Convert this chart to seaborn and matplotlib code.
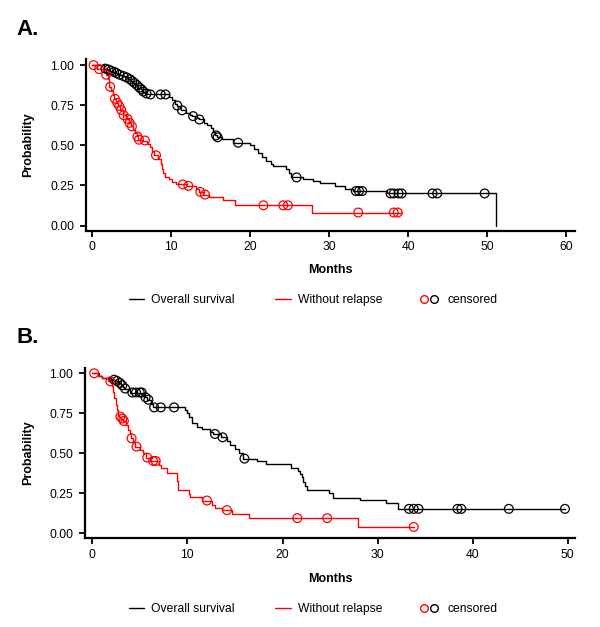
import numpy as np
import pandas as pd
import matplotlib
matplotlib.use("Agg")
import matplotlib.pyplot as plt
from matplotlib.lines import Line2D
import seaborn as sns

# ---------------- data (months, survival probability) ----------------
# Panel A - overall survival (black)
a_os_t = [0, 1.5, 2.0, 2.3, 2.65, 3.0, 3.3, 3.8, 4.2, 4.6, 4.95, 5.25, 5.55, 5.85, 6.15, 6.4, 6.7, 7.2,
          9.7, 10.1, 10.5, 10.7, 11.1, 11.3, 11.9, 12.4, 12.7, 13.3, 13.5, 14.2, 14.6, 15.0, 15.3, 15.6,
          15.8, 16.4, 17.8, 20.0, 20.5, 21.0, 21.5, 22.0, 22.6, 22.9, 24.6, 24.9, 25.2, 26.7, 28.0,
          28.9, 30.8, 32.0, 33.0, 37.3, 51.2]
a_os_s = [1.0, 0.978, 0.972, 0.965, 0.958, 0.95, 0.94, 0.931, 0.923, 0.912, 0.90, 0.888, 0.875, 0.86,
          0.848, 0.835, 0.823, 0.817, 0.80, 0.78, 0.76, 0.748, 0.73, 0.718, 0.70, 0.69, 0.682, 0.67,
          0.661, 0.64, 0.625, 0.605, 0.585, 0.562, 0.55, 0.54, 0.516, 0.50, 0.48, 0.455, 0.43, 0.405,
          0.385, 0.37, 0.35, 0.325, 0.30, 0.288, 0.278, 0.262, 0.248, 0.23, 0.215, 0.20, 0.0]
a_os_cens = [1.7, 2.1, 2.4, 2.8, 3.1, 3.5, 4.0, 4.4, 4.8, 5.1, 5.4, 5.7, 6.0, 6.3, 6.5, 6.9, 7.4, 8.7,
             9.3, 10.8, 11.4, 12.8, 13.6, 15.7, 15.9, 18.5, 25.9, 33.4, 33.8, 34.2, 37.8, 38.2, 38.8,
             39.2, 43.1, 43.7, 49.7]

# Panel A - without relapse (red)
a_rf_t = [0, 0.6, 1.5, 1.75, 2.0, 2.1, 2.2, 2.45, 2.6, 2.75, 3.05, 3.35, 3.6, 3.9, 4.3, 4.65, 4.95,
          5.25, 5.45, 5.65, 5.85, 6.3, 7.0, 7.3, 7.6, 7.9, 8.4, 8.7, 8.85, 9.0, 9.2, 9.7, 10.1, 10.6,
          12.0, 13.2, 13.5, 14.1, 14.8, 16.6, 18.1, 27.9, 39.3]
a_rf_s = [1.0, 0.975, 0.955, 0.94, 0.915, 0.89, 0.865, 0.84, 0.815, 0.79, 0.765, 0.745, 0.72, 0.688,
          0.665, 0.64, 0.618, 0.595, 0.575, 0.555, 0.535, 0.53, 0.51, 0.49, 0.465, 0.438, 0.415,
          0.385, 0.355, 0.33, 0.305, 0.29, 0.27, 0.256, 0.247, 0.228, 0.21, 0.193, 0.178, 0.16,
          0.126, 0.081, 0.081]
a_rf_cens = [0.2, 0.9, 1.8, 2.3, 2.9, 3.2, 3.45, 3.7, 4.0, 4.5, 4.75, 5.05, 5.75, 5.95, 6.7, 8.1,
             11.5, 12.2, 13.7, 14.3, 21.7, 24.2, 24.8, 33.7, 38.2, 38.7]

# Panel B - overall survival (black)
b_os_t = [0, 0.7, 1.0, 2.0, 2.5, 2.8, 3.0, 3.2, 3.35, 4.0, 5.4, 5.8, 6.2, 6.4, 9.7, 10.0, 10.2, 10.5,
          11.0, 11.5, 12.4, 12.7, 13.5, 14.2, 14.5, 15.0, 15.4, 15.8, 17.3, 18.3, 20.9, 21.6, 21.8,
          22.0, 22.2, 22.4, 22.6, 24.9, 25.3, 28.1, 30.9, 32.1, 49.7]
b_os_s = [1.0, 0.985, 0.97, 0.96, 0.952, 0.94, 0.925, 0.912, 0.905, 0.88, 0.85, 0.835, 0.81, 0.787,
          0.77, 0.75, 0.73, 0.69, 0.665, 0.652, 0.635, 0.621, 0.60, 0.575, 0.555, 0.53, 0.50, 0.467,
          0.45, 0.433, 0.41, 0.39, 0.37, 0.35, 0.32, 0.295, 0.268, 0.255, 0.222, 0.206, 0.19, 0.153,
          0.153]
b_os_cens = [2.3, 2.6, 2.9, 3.15, 3.45, 4.2, 4.6, 5.0, 5.2, 5.6, 5.9, 6.5, 7.2, 8.6, 12.9, 13.7, 16.0,
             33.3, 33.8, 34.3, 38.4, 38.8, 43.8, 49.7]

# Panel B - without relapse (red)
b_rf_t = [0, 0.6, 1.0, 1.6, 2.05, 2.15, 2.3, 2.45, 2.6, 2.75, 2.85, 3.05, 3.25, 3.5, 3.75, 3.95, 4.05,
          4.3, 4.5, 5.0, 5.3, 5.6, 6.1, 7.0, 7.2, 7.9, 8.9, 9.0, 10.2, 10.3, 11.5, 12.6, 12.9, 13.6,
          14.7, 16.5, 27.9, 33.8]
b_rf_s = [1.0, 0.985, 0.97, 0.95, 0.92, 0.885, 0.845, 0.805, 0.77, 0.74, 0.729, 0.717, 0.702, 0.675,
          0.648, 0.62, 0.594, 0.572, 0.542, 0.52, 0.50, 0.473, 0.452, 0.43, 0.41, 0.38, 0.33, 0.27,
          0.245, 0.225, 0.205, 0.18, 0.16, 0.145, 0.12, 0.095, 0.04, 0.04]
b_rf_cens = [0.2, 1.9, 2.95, 3.16, 3.32, 4.13, 4.65, 5.78, 6.39, 6.67, 12.06, 14.16, 21.56, 24.7, 33.8]

a_xticks = [0, 10, 20, 30, 40, 50, 60]
b_xticks = [0, 10, 20, 30, 40, 50]
yticks = [0.0, 0.25, 0.5, 0.75, 1.0]
ytick_labels = ["0.00", "0.25", "0.50", "0.75", "1.00"]
legend_labels = ["Overall survival", "Without relapse", "censored"]
panel_labels = ["A.", "B."]

# ---------------- style ----------------
sns.set_theme(style="ticks")
plt.rcParams["font.family"] = ["Liberation Sans", "DejaVu Sans"]
plt.rcParams["text.color"] = "black"
plt.rcParams["axes.labelcolor"] = "black"
plt.rcParams["xtick.color"] = "black"
plt.rcParams["ytick.color"] = "black"

W, H = 600, 627
fig = plt.figure(figsize=(W / 100, H / 100), dpi=100)


def fx(x):
    return x / W


def fy(y):
    return 1 - y / H


BLACK = "#000000"
RED = "#ff0000"


def level_at(ts, ss, c):
    ts = np.asarray(ts)
    ss = np.asarray(ss)
    idx = np.searchsorted(ts, c, side="right") - 1
    return ss[np.clip(idx, 0, len(ss) - 1)]


def draw_curve(ax, ts, ss, cens, color):
    df = pd.DataFrame({"t": ts, "s": ss})
    sns.lineplot(data=df, x="t", y="s", ax=ax, color=color, lw=1.0,
                 drawstyle="steps-post", estimator=None, sort=False, legend=False)
    cdf = pd.DataFrame({"t": cens, "s": level_at(ts, ss, cens)})
    sns.scatterplot(data=cdf, x="t", y="s", ax=ax, marker="o", s=40,
                    facecolors="none", edgecolor=color, linewidth=0.9, legend=False, zorder=5)


def style_axes(ax, xlim, xticks):
    ax.set_xlim(*xlim)
    ax.set_ylim(-0.031, 1.035)
    ax.set_xticks(xticks)
    ax.set_xticklabels([str(v) for v in xticks])
    ax.set_yticks(yticks)
    ax.set_yticklabels(ytick_labels)
    for side in ["top", "right"]:
        ax.spines[side].set_visible(False)
    for side in ["left", "bottom"]:
        ax.spines[side].set_linewidth(1.6)
        ax.spines[side].set_color("black")
    ax.tick_params(axis="both", length=4.5, width=1.3, color="black",
                   labelsize=8.7, labelcolor="black", direction="out")
    ax.tick_params(axis="x", pad=3)
    ax.tick_params(axis="y", pad=4)
    ax.set_xlabel("")
    ax.set_ylabel("")
    ax.set_facecolor("white")


# Panel A axes: left 86, right 575, top 59.5, bottom 230.5
axA = fig.add_axes([fx(86), fy(230.5), (575 - 86) / W, (230.5 - 59.5) / H])
draw_curve(axA, a_os_t, a_os_s, a_os_cens, BLACK)
draw_curve(axA, a_rf_t, a_rf_s, a_rf_cens, RED)
style_axes(axA, ((86 - 92) / 7.9, (575 - 92) / 7.9), a_xticks)

# Panel B axes: left 85, right 575, top 367.7, bottom 538.3
axB = fig.add_axes([fx(85), fy(538.3), (575 - 85) / W, (538.3 - 367.7) / H])
draw_curve(axB, b_os_t, b_os_s, b_os_cens, BLACK)
draw_curve(axB, b_rf_t, b_rf_s, b_rf_cens, RED)
style_axes(axB, ((85 - 92.3) / 9.51, (575 - 92.3) / 9.51), b_xticks)

# labels
for lab, ytop, ycen, ymonths, yleg in [(panel_labels[0], 35, 145, 270, 299),
                                       (panel_labels[1], 343, 453, 579, 607.5)]:
    fig.text(fx(16), fy(ytop), lab, fontsize=16, fontweight="bold", ha="left", va="baseline",
             color="black")
    fig.text(fx(28), fy(ycen), "Probability", fontsize=9, fontweight="bold",
             rotation=90, ha="center", va="center", color="black")
    fig.text(fx(330), fy(ymonths), "Months", fontsize=9, fontweight="bold",
             ha="center", va="center", color="black")
    # legend
    ybase = fy(yleg + 4.3)
    fig.add_artist(Line2D([fx(129), fx(144)], [fy(yleg), fy(yleg)], color=BLACK, lw=1.0,
                          transform=fig.transFigure))
    fig.text(fx(151), ybase, legend_labels[0], fontsize=8.7, ha="left",
             va="baseline", color="black")
    fig.add_artist(Line2D([fx(275), fx(291)], [fy(yleg), fy(yleg)], color=RED, lw=1.0,
                          transform=fig.transFigure))
    fig.text(fx(298), ybase, legend_labels[1], fontsize=8.7, ha="left",
             va="baseline", color="black")
    fig.add_artist(Line2D([fx(424)], [fy(yleg)], marker="o", markersize=5.5, mfc="none",
                          mec=RED, mew=1.0, lw=0, transform=fig.transFigure))
    fig.add_artist(Line2D([fx(434)], [fy(yleg)], marker="o", markersize=5.5, mfc="none",
                          mec=BLACK, mew=1.0, lw=0, transform=fig.transFigure))
    fig.text(fx(447), ybase, legend_labels[2], fontsize=8.7, ha="left",
             va="baseline", color="black")

fig.savefig("out.png", dpi=100, facecolor="white")
